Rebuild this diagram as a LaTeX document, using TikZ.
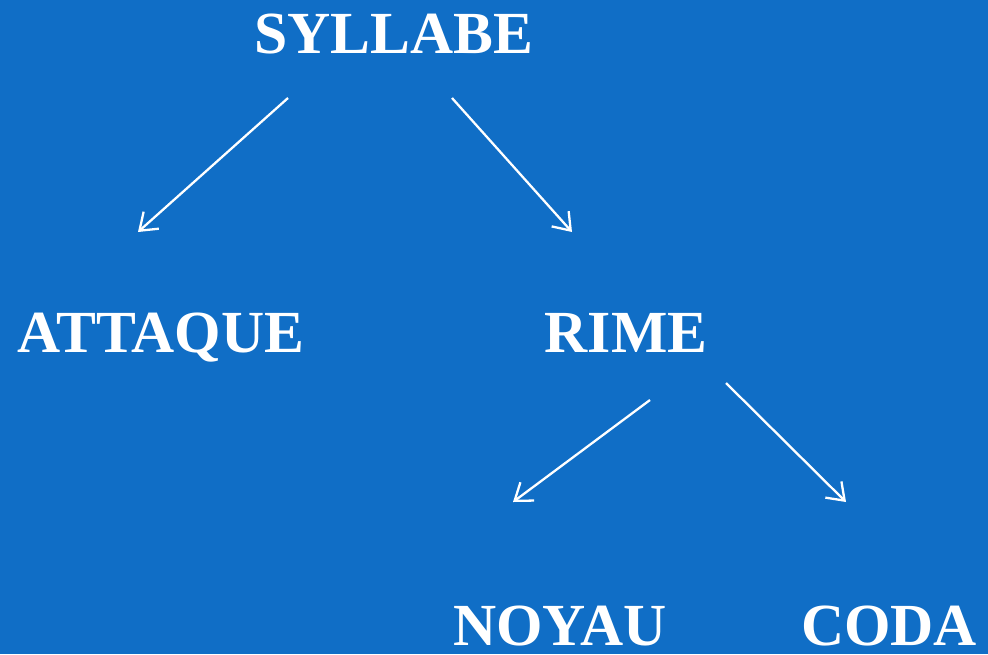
\documentclass[tikz,border=0pt]{standalone}
\usepackage{fontspec}
\setmainfont{Liberation Serif}
\usetikzlibrary{arrows.meta}
\definecolor{fondbleu}{RGB}{16,110,198}

\begin{document}
\begin{tikzpicture}[
    x=0.02cm, y=-0.02cm,
    % --- STILURI ---
    mot/.style={
            anchor=base,
            text=white,
            inner sep=0pt,
            font=\fontsize{34}{40}\selectfont\bfseries
        },
    branche/.style={
            -{Straight Barb[length=9pt,width=13pt,line width=1.3pt]},
            line width=1.3pt,
            draw=white
        }
    ]

    % --- FOND ---
    \fill[fondbleu] (0,0) rectangle (988,654);
    \useasboundingbox (0,0) rectangle (988,654);

    % --- NOEUDS ---
    \node[mot] (syllabe) at (394,53) {SYLLABE};
    \node[mot] (attaque) at (161,352) {ATTAQUE};
    \node[mot] (rime) at (626,352) {RIME};
    \node[mot] (noyau) at (560,645) {NOYAU};
    \node[mot] (coda) at (889,645) {CODA};

    % --- EXTREMITES DES FLECHES ---
    \coordinate (sa1) at (288,98);
    \coordinate (sa2) at (138,232);
    \coordinate (sr1) at (452,98);
    \coordinate (sr2) at (572,232);
    \coordinate (rn1) at (650,400);
    \coordinate (rn2) at (513,502);
    \coordinate (rc1) at (726,383);
    \coordinate (rc2) at (846,502);

    % --- FLECHES ---
    \draw[branche] (sa1) -- (sa2);
    \draw[branche] (sr1) -- (sr2);
    \draw[branche] (rn1) -- (rn2);
    \draw[branche] (rc1) -- (rc2);

\end{tikzpicture}
\end{document}
